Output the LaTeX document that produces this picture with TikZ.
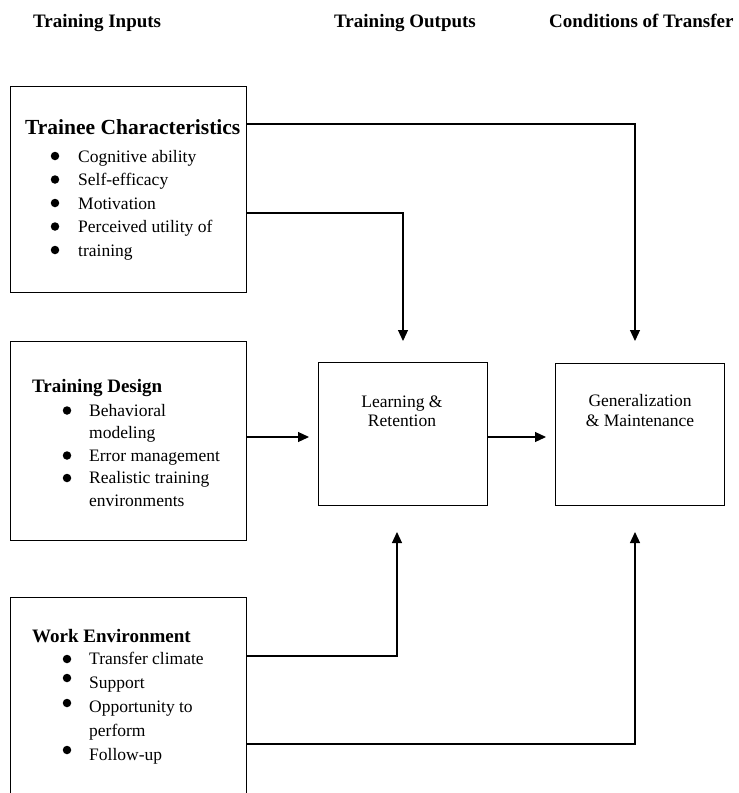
\documentclass[tikz,border=0pt]{standalone}
\usepackage{fontspec}
\setmainfont{Liberation Serif}
\usetikzlibrary{arrows.meta}
\tikzset{
  box/.style={draw, line width=1pt, inner sep=0pt, anchor=north west},
  lbl/.style={inner sep=0pt, anchor=base west, font=\fontsize{17.5}{20}\selectfont},
  clbl/.style={inner sep=0pt, anchor=base, font=\fontsize{17.5}{20}\selectfont},
  ttl/.style={inner sep=0pt, anchor=base west, font=\fontsize{19}{22}\selectfont\bfseries},
  hdr/.style={inner sep=0pt, anchor=base west, font=\fontsize{19}{22}\selectfont\bfseries},
  arr/.style={line width=1.2pt, -{Triangle[length=11pt,width=10pt]}},
  bul/.style={circle, fill=black, draw=none, inner sep=0pt, minimum size=8.5pt}
}
\begin{document}
\begin{tikzpicture}[x=1pt,y=-1pt]
\useasboundingbox (0,0) rectangle (739,793);
\clip (0,0) rectangle (739,793);
% headers
\node[hdr] (h1) at (33,27) {Training Inputs};
\node[hdr] (h2) at (334,27) {Training Outputs};
\node[hdr] (h3) at (549,27) {Conditions of Transfer};
% boxes
\node[box, minimum width=236pt, minimum height=206pt] (b1) at (10,86) {};
\node[box, minimum width=236pt, minimum height=199pt] (b2) at (10,341) {};
\node[box, minimum width=236pt, minimum height=230pt] (b3) at (10,597) {};
\node[box, minimum width=169pt, minimum height=143pt] (lr) at (318,362) {};
\node[box, minimum width=169pt, minimum height=142pt] (gm) at (555,363) {};
% box 1 text
\node[ttl, font=\fontsize{21.5}{24}\selectfont\bfseries] (t1) at (25,134) {Trainee Characteristics};
\node[bul] (d11) at (55,156) {};
\node[lbl] (l11) at (78,162) {Cognitive ability};
\node[bul] (d12) at (55,179.5) {};
\node[lbl] (l12) at (78,185.5) {Self-efficacy};
\node[bul] (d13) at (55,203) {};
\node[lbl] (l13) at (78,209) {Motivation};
\node[bul] (d14) at (55,226.5) {};
\node[lbl] (l14) at (78,232.5) {Perceived utility of};
\node[bul] (d15) at (55,250) {};
\node[lbl] (l15) at (78,256) {training};
% box 2 text
\node[ttl] (t2) at (32,392) {Training Design};
\node[bul] (d21) at (67,410.5) {};
\node[lbl] (l21) at (89,416) {Behavioral};
\node[lbl] (l22) at (89,438.5) {modeling};
\node[bul] (d23) at (67,455.5) {};
\node[lbl] (l23) at (89,461) {Error management};
\node[bul] (d24) at (67,478) {};
\node[lbl] (l24) at (89,483.5) {Realistic training};
\node[lbl] (l25) at (89,506) {environments};
% box 3 text
\node[ttl] (t3) at (32,642) {Work Environment};
\node[bul] (d31) at (67,659) {};
\node[lbl] (l31) at (89,664) {Transfer climate};
\node[bul] (d32) at (67,678) {};
\node[lbl] (l32) at (89,688) {Support};
\node[bul] (d33) at (67,703) {};
\node[lbl] (l33) at (89,712) {Opportunity to};
\node[lbl] (l34) at (89,736) {perform};
\node[bul] (d35) at (67,750) {};
\node[lbl] (l35) at (89,760) {Follow-up};
% centre boxes text
\node[clbl] (lr1) at (402,407) {Learning \&};
\node[clbl] (lr2) at (402,426) {Retention};
\node[clbl] (gm1) at (640,406) {Generalization};
\node[clbl] (gm2) at (640,426) {\& Maintenance};
% connector coordinates
\coordinate (y124) at (0,124);
\coordinate (y213) at (0,213);
\coordinate (y437) at (0,437);
\coordinate (y656) at (0,656);
\coordinate (y744) at (0,744);
\coordinate (tipG1) at (635,341);
\coordinate (tipL1) at (403,341);
\coordinate (tipL2) at (309,437);
\coordinate (tipG2) at (546,437);
\coordinate (tipL3) at (397,532);
\coordinate (tipG3) at (635,532);
% connectors
\draw[arr] (b1.east |- y124) -| (tipG1);
\draw[arr] (b1.east |- y213) -| (tipL1);
\draw[arr] (b2.east |- y437) -- (tipL2);
\draw[arr] (lr.east |- y437) -- (tipG2);
\draw[arr] (b3.east |- y656) -| (tipL3);
\draw[arr] (b3.east |- y744) -| (tipG3);
\end{tikzpicture}
\end{document}
